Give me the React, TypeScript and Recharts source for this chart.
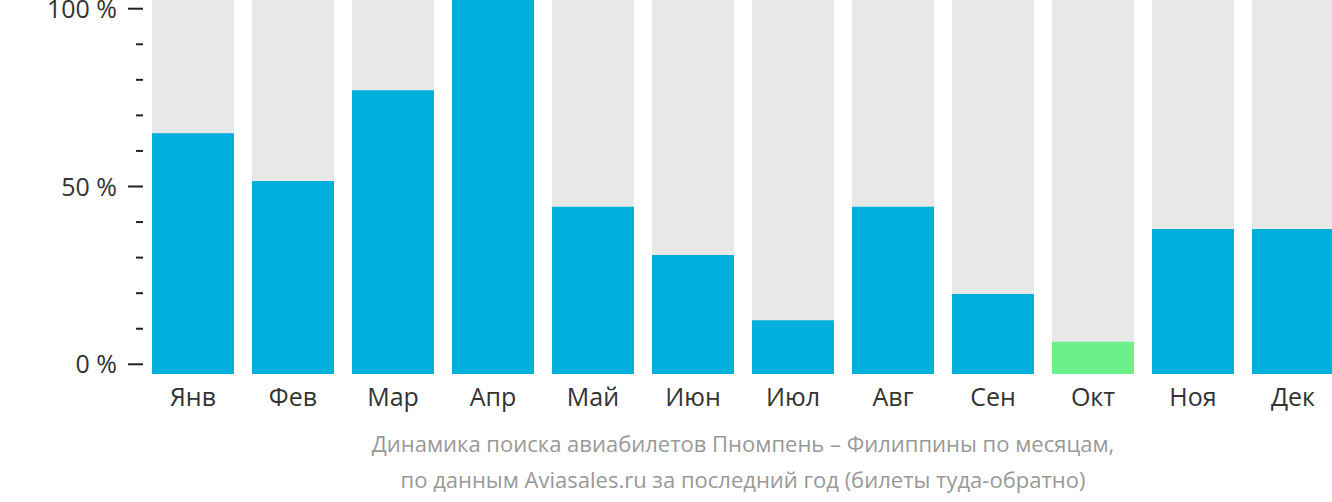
import { Bar, Cell, ComposedChart, Line, XAxis, YAxis } from "recharts";

const months = ["Янв", "Фев", "Мар", "Апр", "Май", "Июн", "Июл", "Авг", "Сен", "Окт", "Ноя", "Дек"];
const searches = [64.4, 51.6, 75.9, 100, 44.7, 31.8, 14.4, 44.7, 21.4, 8.6, 38.8, 38.8];
const lowestMonth = "Окт";
const axisTicks = [0, 10, 20, 30, 40, 50, 60, 70, 80, 90, 100];
const labeledTicks = [0, 50, 100];
const titleLines = [
    "Динамика поиска авиабилетов Пномпень – Филиппины по месяцам,",
    "по данным Aviasales.ru за последний год (билеты туда-обратно)",
];

const data = months.map((m, i) => ({month: m, value: searches[i]}));

const FONT = "'Open Sans', sans-serif";

const PercentTick = (props) => {
    const {x, y, payload} = props;
    const major = labeledTicks.includes(payload.value);
    return (
        <g>
            <line x1={x - (major ? 15 : 7)} x2={x} y1={y} y2={y} stroke="#222" strokeWidth={2}/>
            {major && (
                <text x={x - 26} y={y} dy={9} textAnchor="end" fill="#333" fontSize={25} fontFamily={FONT}>
                    {payload.value} %
                </text>
            )}
        </g>
    );
};

export default function App() {
    return (
        <div style={{position: "absolute", left: 0, top: 0, width: 1332, height: 502, overflow: "hidden", background: "#fff"}}>
            <ComposedChart width={1343} height={420} data={data} barCategoryGap={9}
                           margin={{top: 0, right: 0, bottom: 0, left: 0}}>
                <XAxis dataKey="month" axisLine={false} tickLine={false} height={46}
                       tick={{fill: "#333", fontSize: 25, fontFamily: FONT}} dy={6}/>
                <YAxis yAxisId="bars" hide width={0} domain={[0, 100]}/>
                <YAxis yAxisId="scale" orientation="left" width={143} domain={[-2.73, 102.45]} ticks={axisTicks}
                       allowDataOverflow axisLine={false} tickLine={false} tickSize={0} tickMargin={0}
                       tick={<PercentTick/>} interval={0}/>
                <Bar yAxisId="bars" dataKey="value" isAnimationActive={false} background={{fill: "#e8e8e8"}}>
                    {data.map((d) => (
                        <Cell key={d.month} fill={d.month === lowestMonth ? "#6cf08a" : "#00b0dc"}/>
                    ))}
                </Bar>
                <Line yAxisId="scale" dataKey="value" stroke="none" dot={false} activeDot={false}
                      isAnimationActive={false} legendType="none"/>
            </ComposedChart>
            {titleLines.map((line, i) => (
                <div key={i} style={{
                    position: "absolute", left: 143, width: 1200, top: 427 + i * 36, textAlign: "center",
                    fontFamily: FONT, fontSize: 22, color: "#999", lineHeight: "32px",
                }}>{line}</div>
            ))}
        </div>
    );
}
